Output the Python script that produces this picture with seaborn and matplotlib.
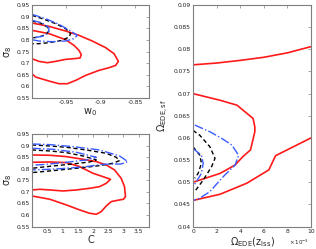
import numpy as np
import pandas as pd
import matplotlib
matplotlib.use("Agg")
import matplotlib.pyplot as plt
import seaborn as sns

# ---- data (contours as open curves) ----
# panel 1: sigma_8 vs w_0
w0_red_outer = [-1.0, -0.9752, -0.951, -0.9316, -0.9122, -0.8928, -0.8806, -0.8743, -0.8782, -0.8879,
                -0.9025, -0.9219, -0.9364, -0.9485, -0.9607, -0.9752, -0.9849, -0.9946, -1.0]
s8_red_outer = [0.8726, 0.8583, 0.8382, 0.8196, 0.7952, 0.7666, 0.7408, 0.7078, 0.6906, 0.6806,
                0.6691, 0.6476, 0.6261, 0.6118, 0.6118, 0.6233, 0.6319, 0.6405, 0.6548]
w0_red_inner = [-1.0, -0.9752, -0.951, -0.9388, -0.9316, -0.9282, -0.9301, -0.9388, -0.951, -0.9655,
                -0.9776, -0.9898, -1.0]
s8_red_inner = [0.8411, 0.8268, 0.801, 0.7766, 0.7551, 0.7365, 0.7222, 0.7193, 0.7164, 0.7078,
                0.7021, 0.7078, 0.7193]
w0_blk_outer = [-1.0, -0.9849, -0.9655, -0.951, -0.9437, -0.9461, -0.9558, -0.9752, -0.9898, -1.0]
s8_blk_outer = [0.9056, 0.8912, 0.8698, 0.8483, 0.8268, 0.8124, 0.7981, 0.7881, 0.7838, 0.7838]
w0_blk_inner = [-1.0, -0.9874, -0.9776, -0.9752, -0.9801, -0.9898, -1.0]
s8_blk_inner = [0.8812, 0.8726, 0.8554, 0.8382, 0.8225, 0.8124, 0.8081]
w0_blu_outer = [-1.0, -0.9801, -0.9607, -0.9437, -0.934, -0.9388, -0.951, -0.9704, -0.9898, -1.0]
s8_blu_outer = [0.9099, 0.8912, 0.8669, 0.8382, 0.8196, 0.8053, 0.7952, 0.7924, 0.7952, 0.801]
w0_blu_inner = [-1.0, -0.9849, -0.9752, -0.9762, -0.9849, -0.998]
s8_blu_inner = [0.8841, 0.8726, 0.8526, 0.8296, 0.8153, 0.8096]

# panel 2: sigma_8 vs C
c_red_outer = [0, 0.587, 1.13, 1.674, 2.109, 2.435, 2.707, 2.924, 3.033, 3.065, 3.0, 2.87, 2.598,
               2.435, 2.272, 2.109, 1.891, 1.565, 1.13, 0.587, 0]
s8c_red_outer = [0.8593, 0.8579, 0.8521, 0.8406, 0.8306, 0.8162, 0.7946, 0.7586, 0.7226, 0.6795,
                 0.668, 0.6651, 0.6579, 0.6392, 0.6147, 0.6032, 0.6075, 0.6219, 0.6435, 0.668, 0.6823]
c_red_inner = [0, 0.587, 1.13, 1.565, 2.0, 2.326, 2.576, 2.435, 2.217, 1.891, 1.457, 1.022, 0.587, 0.261, 0]
s8c_red_inner = [0.8277, 0.8291, 0.8262, 0.809, 0.7802, 0.7658, 0.7543, 0.737, 0.7226, 0.7154,
                 0.7082, 0.7039, 0.7082, 0.7111, 0.7082]
c_blk_outer = [0, 0.587, 1.13, 1.783, 2.435, 2.761, 2.87, 2.652, 2.217, 1.674, 1.13, 0.587, 0]
s8c_blk_outer = [0.9025, 0.8982, 0.8924, 0.8809, 0.8665, 0.8493, 0.8349, 0.8234, 0.8133, 0.8047,
                 0.7975, 0.7903, 0.7831]
c_blk_inner = [0, 0.587, 1.13, 1.674, 2.109, 1.891, 1.348, 0.696, 0]
s8c_blk_inner = [0.8809, 0.8766, 0.8694, 0.855, 0.8378, 0.8291, 0.8205, 0.8119, 0.8018]
c_blu_outer = [0, 0.587, 1.348, 2.217, 2.87, 3.141, 2.924, 2.326, 1.783, 1.13, 0.587, 0]
s8c_blu_outer = [0.9068, 0.904, 0.8953, 0.8809, 0.855, 0.8306, 0.8205, 0.8191, 0.809, 0.8018,
                 0.7975, 0.7946]
c_blu_inner = [0, 0.696, 1.457, 2.109, 1.783, 1.13, 0.478, 0]
s8c_blu_inner = [0.8881, 0.8838, 0.8709, 0.8493, 0.8378, 0.8277, 0.8191, 0.8147]

# panel 3: Omega_EDE,sf vs Omega_EDE(z_lss), x in units of 1e-3
ez_red_top = [0, 2, 4, 6, 8, 10]
esf_red_top = [0.0765, 0.0769, 0.0775, 0.0782, 0.0792, 0.0806]
ez_red_inner = [0, 2.29, 3.72, 5.09, 5.24, 5.24, 4.87, 4.23, 3.57, 2.29, 0]
esf_red_inner = [0.0700, 0.0685, 0.0674, 0.0644, 0.0625, 0.0614, 0.0573, 0.0558, 0.0539, 0.0520, 0.0500]
ez_red_outer = [0, 2.29, 4.57, 6.43, 7.0, 10]
esf_red_outer = [0.0459, 0.0473, 0.0498, 0.0528, 0.0560, 0.0600]
ez_blu_outer = [0.15, 1.43, 2.43, 3.29, 3.86, 3.57, 2.57, 1.43, 0.57, 0]
esf_blu_outer = [0.0629, 0.0614, 0.0599, 0.0584, 0.0561, 0.0539, 0.0513, 0.0479, 0.0464, 0.0459]
ez_blu_inner = [0, 0.71, 0.86, 0.71, 0.29, 0]
esf_blu_inner = [0.0576, 0.0561, 0.0543, 0.0520, 0.0502, 0.0490]
ez_blk_outer = [0, 0.57, 1.43, 1.86, 1.57, 0.86, 0.14]
esf_blk_outer = [0.0617, 0.0606, 0.0580, 0.0554, 0.0535, 0.0505, 0.0479]
ez_blk_inner = [0, 0.57, 0.71, 0.43, 0.14]
esf_blk_inner = [0.0580, 0.0561, 0.0543, 0.0520, 0.0509]

RED = "#ff1a1a"
BLUE = "#3a5cff"
BLACK = "#000000"
SPINE = "#7f7f7f"


def trace(ax, x, y, color, ls, lw):
    df = pd.DataFrame({"x": x, "y": y})
    sns.lineplot(data=df, x="x", y="y", sort=False, estimator=None, ax=ax,
                 color=color, linestyle=ls, linewidth=lw)


def matlab_axes(ax):
    for sp in ax.spines.values():
        sp.set_visible(True)
        sp.set_color(SPINE)
        sp.set_linewidth(0.8)
    ax.tick_params(direction="in", length=2, width=0.5, colors=SPINE,
                   labelcolor="#222222", labelsize=4.3, pad=1.5,
                   top=True, right=True)
    ax.set_xlabel("")
    ax.set_ylabel("")


def trim(v, _):
    return ("%g" % v)


sns.set_style("white")
fig = plt.figure(figsize=(3.16, 2.49), dpi=100)

# ---- top left ----
ax1 = fig.add_axes([0.101, 0.606, 0.370, 0.374])
trace(ax1, w0_red_outer, s8_red_outer, RED, "-", 1.2)
trace(ax1, w0_red_inner, s8_red_inner, RED, "-", 1.2)
trace(ax1, w0_blk_outer, s8_blk_outer, BLACK, (0, (3, 2)), 1.0)
trace(ax1, w0_blk_inner, s8_blk_inner, BLACK, (0, (3, 2)), 1.0)
trace(ax1, w0_blu_outer, s8_blu_outer, BLUE, "-.", 1.0)
trace(ax1, w0_blu_inner, s8_blu_inner, BLUE, "-.", 1.0)
ax1.set_xlim(-1.0, -0.83)
ax1.set_ylim(0.55, 0.95)
ax1.set_xticks([-0.95, -0.9, -0.85])
ax1.set_yticks(np.arange(0.55, 0.951, 0.05))
matlab_axes(ax1)
ax1.xaxis.set_major_formatter(matplotlib.ticker.FuncFormatter(trim))
ax1.yaxis.set_major_formatter(matplotlib.ticker.FuncFormatter(trim))
ax1.set_xlabel(r"$\mathregular{w_0}$", fontsize=7, labelpad=1)
ax1.set_ylabel(r"$\mathregular{\sigma_8}$", fontsize=7, labelpad=2)

# ---- bottom left ----
ax2 = fig.add_axes([0.101, 0.090, 0.370, 0.372])
trace(ax2, c_red_outer, s8c_red_outer, RED, "-", 1.2)
trace(ax2, c_red_inner, s8c_red_inner, RED, "-", 1.2)
trace(ax2, c_blk_outer, s8c_blk_outer, BLACK, (0, (3, 2)), 1.0)
trace(ax2, c_blk_inner, s8c_blk_inner, BLACK, (0, (3, 2)), 1.0)
trace(ax2, c_blu_outer, s8c_blu_outer, BLUE, "-.", 1.0)
trace(ax2, c_blu_inner, s8c_blu_inner, BLUE, "-.", 1.0)
ax2.set_xlim(0, 3.83)
ax2.set_ylim(0.55, 0.95)
ax2.set_xticks([0.5, 1, 1.5, 2, 2.5, 3, 3.5])
ax2.set_yticks(np.arange(0.55, 0.951, 0.05))
matlab_axes(ax2)
ax2.xaxis.set_major_formatter(matplotlib.ticker.FuncFormatter(trim))
ax2.yaxis.set_major_formatter(matplotlib.ticker.FuncFormatter(trim))
ax2.set_xlabel("C", fontsize=7, labelpad=1)
ax2.set_ylabel(r"$\mathregular{\sigma_8}$", fontsize=7, labelpad=2)

# ---- right ----
ax3 = fig.add_axes([0.611, 0.090, 0.373, 0.890])
trace(ax3, ez_red_top, esf_red_top, RED, "-", 1.2)
trace(ax3, ez_red_inner, esf_red_inner, RED, "-", 1.2)
trace(ax3, ez_red_outer, esf_red_outer, RED, "-", 1.2)
trace(ax3, ez_blk_outer, esf_blk_outer, BLACK, (0, (3, 2)), 1.0)
trace(ax3, ez_blk_inner, esf_blk_inner, BLACK, (0, (3, 2)), 1.0)
trace(ax3, ez_blu_outer, esf_blu_outer, BLUE, "-.", 1.0)
trace(ax3, ez_blu_inner, esf_blu_inner, BLUE, "-.", 1.0)
ax3.set_xlim(0, 10)
ax3.set_ylim(0.04, 0.09)
ax3.set_xticks([0, 2, 4, 6, 8, 10])
ax3.set_yticks(np.arange(0.04, 0.0901, 0.005))
matlab_axes(ax3)
ax3.xaxis.set_major_formatter(matplotlib.ticker.FuncFormatter(trim))
ax3.yaxis.set_major_formatter(matplotlib.ticker.FuncFormatter(lambda v, _: "%g" % round(v, 4)))
ax3.set_xlabel(r"$\mathregular{\Omega_{EDE}(z_{lss})}$", fontsize=7, labelpad=1)
ax3.set_ylabel(r"$\mathregular{\Omega_{EDE,sf}}$", fontsize=7, labelpad=2)
ax3.text(0.985, -0.07, r"$\mathregular{\times\,10^{-3}}$", transform=ax3.transAxes,
         fontsize=4, ha="right", va="center", color="#222222")

fig.savefig("out.png", dpi=100)
